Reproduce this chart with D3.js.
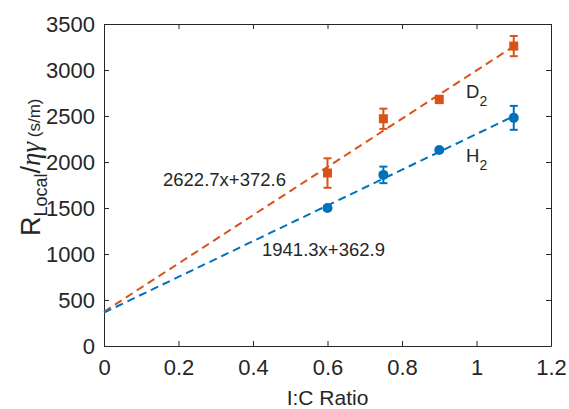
<!DOCTYPE html>
<html>
<head>
<meta charset="utf-8">
<script src="https://cdn.jsdelivr.net/npm/d3@7"></script>
<style>
  body { margin: 0; background: #fff; }
  text { font-family: "Liberation Sans", Arial, sans-serif; fill: #262626; }
</style>
</head>
<body>
<div id="chart"></div>
<script>
// data
const ratio = [0.6, 0.75, 0.9, 1.1];
const d2Values = [1880, 2470, 2680, 3260];
const d2Errors = [160, 110, 40, 110];
const h2Values = [1500, 1860, 2130, 2480];
const h2Errors = [20, 90, 20, 130];
const fits = [
  { name: "D2", slope: 2622.7, icpt: 372.6, color: "#D95319" },
  { name: "H2", slope: 1941.3, icpt: 362.9, color: "#0072BD" }
];
const xTicks = [0, 0.2, 0.4, 0.6, 0.8, 1, 1.2];
const yTicks = [0, 500, 1000, 1500, 2000, 2500, 3000, 3500];

const W = 569, H = 409;
const m = { left: 104, right: 18, top: 24, bottom: 63 };

const svg = d3.select("#chart").append("svg")
  .attr("width", W).attr("height", H);

const x = d3.scaleLinear().domain([0, 1.2]).range([m.left, W - m.right]);
const y = d3.scaleLinear().domain([0, 3500]).range([H - m.bottom, m.top]);

// axes, ticks inside like matlab
const fmt = d => String(d);
svg.append("g").attr("transform", `translate(0,${y(0)})`)
  .call(d3.axisBottom(x).tickValues(xTicks).tickFormat(fmt).tickSizeInner(-5).tickSizeOuter(0).tickPadding(13));
svg.append("g").attr("transform", `translate(0,${y(3500)})`)
  .call(d3.axisTop(x).tickValues(xTicks).tickFormat("").tickSizeInner(-5).tickSizeOuter(0));
svg.append("g").attr("transform", `translate(${x(0)},0)`)
  .call(d3.axisLeft(y).tickValues(yTicks).tickFormat(fmt).tickSizeInner(-5).tickSizeOuter(0).tickPadding(9));
svg.append("g").attr("transform", `translate(${x(1.2)},0)`)
  .call(d3.axisRight(y).tickValues(yTicks).tickFormat("").tickSizeInner(-5).tickSizeOuter(0));

svg.selectAll(".domain, .tick line").attr("stroke", "#262626").attr("stroke-width", 1);
svg.selectAll(".tick text").style("font-size", "22px").attr("fill", "#262626");

// fit lines
fits.forEach(f => {
  svg.append("line")
    .attr("x1", x(0)).attr("y1", y(f.icpt))
    .attr("x2", x(1.1)).attr("y2", y(f.slope * 1.1 + f.icpt))
    .attr("stroke", f.color).attr("stroke-width", 2)
    .attr("stroke-dasharray", "8,5");
});

// error bars + markers
function drawSeries(vals, errs, color, shape) {
  const g = svg.append("g");
  vals.forEach((v, i) => {
    const cx = x(ratio[i]);
    g.append("line").attr("x1", cx).attr("x2", cx)
      .attr("y1", y(v - errs[i])).attr("y2", y(v + errs[i]))
      .attr("stroke", color).attr("stroke-width", 2);
    [v - errs[i], v + errs[i]].forEach(e => {
      g.append("line").attr("x1", cx - 4).attr("x2", cx + 4)
        .attr("y1", y(e)).attr("y2", y(e))
        .attr("stroke", color).attr("stroke-width", 2);
    });
    if (shape === "square") {
      g.append("rect").attr("x", cx - 4.5).attr("y", y(v) - 4.5)
        .attr("width", 9).attr("height", 9).attr("fill", color);
    } else {
      g.append("circle").attr("cx", cx).attr("cy", y(v)).attr("r", 5).attr("fill", color);
    }
  });
}
drawSeries(d2Values, d2Errors, fits[0].color, "square");
drawSeries(h2Values, h2Errors, fits[1].color, "circle");

// annotations
svg.append("text").attr("x", 163).attr("y", 186).style("font-size", "18.5px")
  .text("2622.7x+372.6");
svg.append("text").attr("x", 262).attr("y", 256).style("font-size", "18.5px")
  .text("1941.3x+362.9");

function subLabel(px, py, main, sub) {
  const t = svg.append("text").attr("x", px).attr("y", py).style("font-size", "18.5px");
  t.append("tspan").text(main);
  t.append("tspan").attr("dy", 8).style("font-size", "14px").text(sub);
}
subLabel(466, 98, "D", "2");
subLabel(466, 162, "H", "2");

// axis titles
svg.append("text").attr("x", (x(0) + x(1.2)) / 2).attr("y", 405)
  .attr("text-anchor", "middle").style("font-size", "21px").text("I:C Ratio");

const yl = svg.append("text")
  .attr("transform", "translate(40,236) rotate(-90)")
  .attr("text-anchor", "start").style("font-size", "27px");
yl.append("tspan").text("R");
yl.append("tspan").attr("dy", 7).style("font-size", "18px").text("Local");
yl.append("tspan").attr("dy", -7).text("/");
yl.append("tspan").style("font-family", "'Liberation Serif', serif").style("font-style", "italic").text("ηγ");
yl.append("tspan").style("font-size", "17px").text(" (s/m)");
</script>
</body>
</html>
